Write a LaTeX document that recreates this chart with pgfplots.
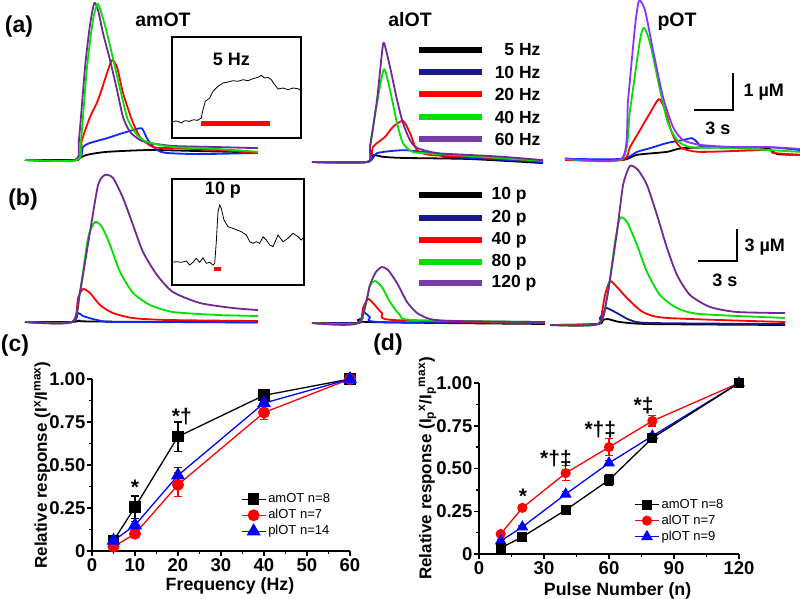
\documentclass[border=0pt]{standalone}
\usepackage{pgfplots}
\pgfplotsset{compat=1.18}
\usepackage{fontspec}
\setmainfont{Liberation Sans}
\newcommand\fs[1]{\fontsize{#1}{#1}\selectfont}
\definecolor{tgreen}{RGB}{0,225,0}
\definecolor{tpurple}{RGB}{112,40,150}
\definecolor{lpurple}{RGB}{120,60,170}
\definecolor{tviolet}{RGB}{140,50,255}
\definecolor{tnavy}{RGB}{25,25,140}
\definecolor{tblue}{RGB}{10,40,255}
\pgfplotsset{
 trace/.style={hide axis, clip=false, x=13pt, xmin=0, xmax=18, ymin=0, enlargelimits=false, anchor=south west,
   every axis plot/.append style={line width=1.8pt, smooth, tension=0.4, no marks, line join=round}},
 traceA/.style={trace, y=37pt, ymax=4.4},
 traceB/.style={trace, y=10.667pt, ymax=15},
 inset/.style={anchor=south west, scale only axis, xtick=\empty, ytick=\empty, clip=false,
   axis line style={line width=1.1pt}, enlargelimits=false},
 sumplot/.style={scale only axis, anchor=south west, clip=false, enlargelimits=false,
   axis x line=bottom, axis y line=left, axis line style={-, line width=1.5pt},
   tick align=outside, major tick length=5pt, minor tick length=3pt,
   every tick/.style={black, line width=1.5pt},
   tick label style={font=\bfseries\fs{18.5}},
   xticklabel style={inner sep=2pt},
   yticklabel style={inner sep=1.5pt},
   /pgf/number format/assume math mode=true,
   minor x tick num=1, minor y tick num=1,
   ytick={0,0.25,0.5,0.75,1}, yticklabels={0,0.25,0.50,0.75,1.00},
   ymin=0, ymax=1,
   xlabel style={font=\bfseries\fs{17.8}, anchor=center},
   ylabel style={font=\bfseries\fs{17}, anchor=center},
   legend cell align=left,
   legend image code/.code={\draw[mark repeat=2,mark phase=2,##1] plot coordinates {(0pt,0pt) (12pt,0pt) (24pt,0pt)};},
   legend style={anchor=north west, draw=none, fill=none, font=\fs{13}, row sep=0pt,
     nodes={inner sep=2pt, text height=9.5pt, text depth=2.5pt}},
   every axis plot/.append style={line width=1.3pt, mark options={solid}},
   error bars/y dir=both, error bars/y explicit,
   error bars/error bar style={line width=1.3pt},
   error bars/error mark options={rotate=90, mark size=4pt, line width=1.3pt}},
 amst/.style={black, mark=square*, mark size=5.2pt},
 alst/.style={red, mark=*, mark size=5.3pt},
 plst/.style={blue, mark=triangle*, mark size=6.8pt},
 amsd/.style={black, mark=square*, mark size=4.2pt},
 alsd/.style={red, mark=*, mark size=4.4pt},
 plsd/.style={blue, mark=triangle*, mark size=5.6pt},
}
\begin{document}
\begin{tikzpicture}
\useasboundingbox (0,0) rectangle (800pt,-599pt);
% ---------- labels
\node[font=\bfseries\fs{23}] at (19pt,-27pt) {(a)};
\node[font=\bfseries\fs{23}] at (23pt,-200pt) {(b)};
\node[font=\bfseries\fs{23}] at (15pt,-346pt) {(c)};
\node[font=\bfseries\fs{23}] at (388pt,-345pt) {(d)};
\node[font=\bfseries\fs{19.5}] at (163pt,-20pt) {amOT};
\node[font=\bfseries\fs{19.5}] at (410pt,-20pt) {alOT};
\node[font=\bfseries\fs{19.5}] at (677pt,-22pt) {pOT};
% ---------- legends (a) (b)
\foreach \yy/\cc/\tt in {50/black/5 Hz, 72/tnavy/10 Hz, 94/red/20 Hz, 117/tgreen/40 Hz, 139/lpurple/60 Hz}{
  \draw[line width=6pt, \cc] (419pt,-\yy pt) -- (482pt,-\yy pt);
  \node[anchor=east, font=\bfseries\fs{17.5}] at (544pt,-\yy pt) {\tt};
}
\foreach \yy/\cc/\tt in {195/black/10 p, 218/tnavy/20 p, 240/red/40 p, 262/tgreen/80 p, 283/lpurple/120 p}{
  \draw[line width=6pt, \cc] (419pt,-\yy pt) -- (482pt,-\yy pt);
  \node[anchor=west, font=\bfseries\fs{17.5}] at (488pt,-\yy pt) {\tt};
}
% ---------- (a) amOT
\begin{axis}[traceA, at={(25pt,-160pt)}]
\addplot[black] coordinates {(0,0) (3.9,0) (4.08,0.03) (4.77,0.14) (6.31,0.22) (9.62,0.27) (13.46,0.24) (16.0,0.22) (17.92,0.19)};
\addplot[tblue] coordinates {(0,0) (4.0,0) (4.46,0.35) (5.0,0.46) (6.31,0.59) (7.54,0.73) (8.85,0.86) (9.08,0.81) (9.46,0.54) (10.15,0.27) (10.92,0.19) (13.46,0.16) (17.92,0.19)};
\addplot[red] coordinates {(0,0) (4.0,0) (4.38,0.54) (5.0,1.16) (5.62,1.62) (6.31,2.35) (6.69,2.70) (7.08,2.51) (7.54,1.81) (8.23,1.08) (8.85,0.62) (9.85,0.35) (11.38,0.32) (14.77,0.27) (17.92,0.19)};
\addplot[tpurple] coordinates {(0,0) (3.85,0) (4.15,0.54) (4.62,2.51) (5.0,3.65) (5.33,4.24) (5.62,4.05) (6.0,3.43) (6.54,2.70) (7.08,1.89) (7.54,1.16) (8.08,0.76) (8.85,0.54) (9.62,0.46) (11.38,0.38) (14.77,0.35) (17.92,0.32)};
\addplot[tgreen] coordinates {(0,0) (4.0,0) (4.31,0.54) (4.77,2.51) (5.23,3.78) (5.59,4.22) (5.92,3.92) (6.31,3.43) (6.92,2.51) (7.46,1.70) (7.92,1.08) (8.62,0.68) (9.38,0.49) (11.38,0.35) (14.77,0.30) (17.92,0.22)};
\end{axis}
% ---------- (a) alOT
\begin{axis}[traceA, at={(312pt,-162pt)}]
\addplot[black] coordinates {(0,0) (4.23,0) (4.69,0.19) (5.46,0.14) (7.0,0.11) (12.15,0.08) (17.77,-0.03)};
\addplot[tblue] coordinates {(0,0) (4.23,0) (5.0,0.24) (7.0,0.32) (8.54,0.27) (9.85,0.22) (10.08,0.14) (12.15,0.11) (17.77,0)};
\addplot[red] coordinates {(0,0) (4.23,0) (4.69,0.41) (5.62,0.68) (6.23,0.95) (7.0,1.11) (7.54,0.78) (8.08,0.32) (9.08,0.19) (12.15,0.14) (17.77,0.03)};
\addplot[tgreen] coordinates {(0,0) (4.23,0) (4.46,0.41) (5.08,1.76) (5.54,2.51) (6.0,1.95) (6.54,1.05) (7.0,0.51) (7.77,0.27) (9.62,0.22) (17.77,0.03)};
\addplot[tpurple] coordinates {(0,0) (4.23,0) (4.46,0.41) (5.0,1.68) (5.38,2.95) (5.54,3.22) (6.0,2.57) (6.54,1.68) (7.0,1.05) (7.54,0.59) (8.08,0.38) (9.62,0.24) (12.15,0.19) (14.69,0.14) (17.77,0.05)};
\end{axis}
% ---------- (a) pOT
\begin{axis}[traceA, at={(565pt,-160pt)}, xmax=18.1]
\addplot[black] coordinates {(0,0) (4.38,0) (5.54,0.14) (7.85,0.22) (9.08,0.32) (12.92,0.35) (15.54,0.32) (16.31,0.16) (18.08,0.14)};
\addplot[tblue] coordinates {(0,0.03) (4.38,0.03) (5.54,0.22) (6.54,0.32) (7.85,0.46) (9.08,0.54) (9.77,0.59) (10.15,0.49) (10.62,0.35) (12.92,0.35) (15.54,0.35) (18.08,0.27)};
\addplot[red] coordinates {(0,0) (4.38,0) (5.0,0.35) (5.77,0.81) (6.54,1.27) (7.23,1.65) (7.69,1.35) (8.23,0.73) (8.85,0.35) (10.38,0.22) (15.54,0.27) (16.0,0.19) (18.08,0.14)};
\addplot[tgreen] coordinates {(0,0.03) (4.38,0.03) (5.0,1.35) (5.77,3.24) (6.08,3.57) (6.54,3.16) (7.31,1.89) (7.92,1.0) (8.62,0.54) (9.62,0.35) (12.92,0.32) (18.08,0.22)};
\addplot[tviolet] coordinates {(0,0.05) (4.38,0.05) (4.85,1.62) (5.38,3.59) (5.69,4.30) (6.15,4.05) (6.77,2.97) (7.54,1.70) (8.31,0.89) (9.08,0.54) (10.38,0.41) (12.92,0.35) (15.54,0.35) (18.08,0.30)};
\draw[line width=2pt] (axis cs:9.92,1.35) -- (axis cs:12.92,1.35) -- (axis cs:12.92,2.35);
\end{axis}
\node[anchor=west, font=\bfseries\fs{18}] at (740pt,-92pt) {1 µM};
\node[font=\bfseries\fs{18}] at (718pt,-128pt) {3 s};
% ---------- (b) amOT
\begin{axis}[traceB, at={(25pt,-322pt)}]
\addplot[black] coordinates {(0,0) (3.62,0) (4.2,0.15) (5.0,0.05) (17.92,-0.05)};
\addplot[tblue] coordinates {(0,0) (3.62,0) (4.08,0.84) (4.46,0.56) (5.54,0.19) (7.08,0) (17.92,0)};
\addplot[red] coordinates {(0,0) (3.62,0) (4.08,2.25) (4.46,3.09) (5.0,2.72) (5.77,1.59) (6.77,0.84) (8.31,0.37) (10.92,0.19) (17.92,0.09)};
\addplot[tgreen] coordinates {(0,0) (3.62,0) (4.23,2.81) (4.85,7.87) (5.38,9.37) (5.92,8.91) (6.54,7.22) (7.31,4.69) (8.31,2.72) (9.62,1.59) (11.38,0.94) (14.77,0.66) (17.92,0.56)};
\addplot[tpurple] coordinates {(0,0) (3.62,0) (4.23,2.81) (5.0,8.44) (5.62,12.84) (6.15,13.78) (6.77,13.5) (7.54,11.62) (8.31,9.09) (9.08,6.56) (10.15,4.41) (11.38,2.81) (13.46,1.78) (16.0,1.31) (17.92,1.12)};
\end{axis}
% ---------- (b) alOT
\begin{axis}[traceB, at={(312pt,-323pt)}]
\addplot[black] coordinates {(0,0) (3.54,0) (3.69,0.28) (3.92,0.47) (4.31,0.09) (17.92,-0.09)};
\addplot[tblue] coordinates {(0,0) (3.54,0) (3.85,0.75) (4.0,1.03) (4.46,0.56) (5.23,0.09) (17.92,0)};
\addplot[red] coordinates {(0,0) (3.54,0) (3.92,1.41) (4.31,2.25) (4.69,1.87) (5.38,0.94) (6.23,0.28) (17.92,0)};
\addplot[tgreen] coordinates {(0,0) (3.54,0) (4.23,2.34) (4.46,3.56) (4.85,3.94) (5.38,3.37) (6.0,1.97) (6.77,0.75) (7.77,0.28) (17.92,0.09)};
\addplot[tpurple] coordinates {(0,0) (3.54,0) (4.46,3.56) (4.92,4.78) (5.38,5.25) (5.85,4.97) (6.54,3.75) (7.31,1.97) (8.08,0.94) (9.08,0.37) (10.85,0.19) (17.92,0.09)};
\end{axis}
% ---------- (b) pOT
\begin{axis}[traceB, at={(550pt,-325pt)}, xmax=18.1]
\addplot[black] coordinates {(0,0) (3.69,0.09) (4.08,0.47) (4.46,0.56) (5.38,0.28) (7.69,0.09) (18.08,0)};
\addplot[tnavy] coordinates {(0,0) (3.69,0.09) (3.85,0.66) (4.23,1.41) (4.38,1.59) (5.15,1.12) (6.15,0.47) (7.69,0.19) (18.08,0.09)};
\addplot[red] coordinates {(0,0) (3.69,0.09) (4.0,1.22) (4.23,2.81) (4.62,4.12) (5.15,3.56) (5.92,2.53) (7.15,1.22) (9.0,0.66) (18.08,0.28)};
\addplot[tgreen] coordinates {(0,0) (3.69,0.09) (4.38,2.53) (5.0,7.78) (5.38,10.03) (5.92,9.66) (6.69,7.5) (7.46,4.97) (8.46,2.81) (9.77,1.59) (11.54,1.03) (18.08,0.66)};
\addplot[tpurple] coordinates {(0,0) (3.69,0.09) (4.38,2.53) (5.15,8.72) (5.62,13.12) (6.15,14.91) (6.77,14.53) (7.46,13.12) (8.23,10.31) (9.0,7.22) (9.77,4.69) (10.77,2.81) (12.31,1.69) (14.38,1.22) (18.08,1.12)};
\draw[line width=2pt] (axis cs:11.38,6.0) -- (axis cs:14.38,6.0) -- (axis cs:14.38,9.0);
\end{axis}
\node[anchor=west, font=\bfseries\fs{18}] at (741pt,-247pt) {3 µM};
\node[font=\bfseries\fs{18}] at (725pt,-280pt) {3 s};
% ---------- insets
\begin{axis}[inset, at={(172pt,-138pt)}, width=129pt, height=101pt, xmin=0, xmax=129, ymin=0, ymax=101]
\addplot[black, line width=0.8pt, no marks] coordinates {(1,16) (3.5,17) (6,16.7) (9.3,15) (12,17) (14.3,17.3) (17,16.5) (19.3,17.7) (22.7,18.3) (25,17.5) (27.7,19) (29.3,20) (31,28.3) (33.3,36.7) (37.7,40) (41,46.7) (46,51.7) (51,55) (56,56) (61,57.3) (66,56.7) (71,58.3) (76,57.3) (81,59.3) (86,60.7) (89.3,62.7) (92.7,60) (96,60.7) (99.3,58.3) (102.7,53.3) (106,49) (111,50) (116,48.3) (121,50) (126,49.3) (128.7,47.7)};
\addplot[red, line width=4.7pt, no marks] coordinates {(29.3,14.7) (97.7,14.7)};
\node[font=\bfseries\fs{18}] at (axis cs:59.3,78.3) {5 Hz};
\end{axis}
\begin{axis}[inset, at={(172pt,-285pt)}, width=132pt, height=106pt, xmin=0, xmax=132, ymin=0, ymax=106]
\addplot[black, line width=0.8pt, no marks] coordinates {(0,22.7) (4.3,23.3) (9.3,22.7) (14.3,24) (17.7,20) (21,22.7) (24.3,26.7) (27.7,22.7) (31,27.3) (34.3,21.7) (37.7,22.7) (41,20) (42.7,21.7) (44.3,43.3) (46,73.3) (47.7,80) (49.3,76.7) (52,65) (56,58.3) (62.7,56) (69.3,53.3) (74.3,50) (77.7,43.3) (81,41.7) (84.3,43.3) (87.7,41.7) (91,48.3) (94.3,45) (97.7,40) (101,38.3) (106,50) (111,43.3) (116,46.7) (121,51.7) (126,48.3) (129.3,45) (132,48.3)};
\addplot[red, line width=4.3pt, no marks] coordinates {(42,16.2) (49.3,16.2)};
\node[font=\bfseries\fs{18}] at (axis cs:51,95) {10 p};
\end{axis}
% ---------- (c)
\begin{axis}[sumplot, at={(92pt,-551pt)}, width=258pt, height=172pt,
  xmin=0, xmax=60, xtick={0,10,...,60},
  xlabel={Frequency (Hz)}, ylabel={Relative response (I\textsuperscript{x}/I\textsuperscript{max})},
  xlabel style={at={(axis description cs:0.535,-0.2)}},
  ylabel style={at={(axis description cs:-0.193,0.5)}},
  legend style={at={(0.565,0.36)}}]
\addlegendimage{amst, line width=1.3pt}
\addlegendimage{alst, line width=1.3pt}
\addlegendimage{plst, line width=1.3pt}
\addplot[amst, forget plot] coordinates {(5,0.06) +- (0,0.015) (10,0.255) +- (0,0.065) (20,0.665) +- (0,0.085) (40,0.905) +- (0,0.035) (60,1.0) +- (0,0)};
\addplot[alst, forget plot] coordinates {(5,0.025) +- (0,0.01) (10,0.10) +- (0,0.012) (20,0.385) +- (0,0.07) (40,0.805) +- (0,0.04) (60,1.0) +- (0,0)};
\addplot[plst, forget plot] coordinates {(5,0.06) +- (0,0.01) (10,0.15) +- (0,0.02) (20,0.44) +- (0,0.045) (40,0.86) +- (0,0.02) (60,1.0) +- (0,0)};
\legend{amOT n=8, alOT n=7, plOT n=14}
\node[font=\bfseries\fs{21}] at (axis cs:10,0.37) {*};
\node[font=\bfseries\fs{21}] at (axis cs:20.9,0.78) {*†};
\end{axis}
% ---------- (d)
\begin{axis}[sumplot, at={(479pt,-554pt)}, width=260pt, height=171pt,
  xmin=0, xmax=120, xtick={0,30,...,120},
  xlabel={Pulse Number (n)}, ylabel={Relative response (I\textsubscript{p}\textsuperscript{x}/I\textsubscript{p}\textsuperscript{max})},
  xlabel style={at={(axis description cs:0.533,-0.213)}},
  ylabel style={at={(axis description cs:-0.198,0.5)}},
  legend style={at={(0.585,0.348)}}]
\addlegendimage{amsd, line width=1.3pt}
\addlegendimage{alsd, line width=1.3pt}
\addlegendimage{plsd, line width=1.3pt}
\addplot[alsd, forget plot] coordinates {(10,0.117) +- (0,0.01) (20,0.27) +- (0,0.015) (40,0.473) +- (0,0.045) (60,0.625) +- (0,0.05) (80,0.778) +- (0,0.03) (120,1.0) +- (0,0)};
\addplot[plsd, forget plot] coordinates {(10,0.076) +- (0,0.01) (20,0.158) +- (0,0.01) (40,0.35) +- (0,0.015) (60,0.532) +- (0,0.015) (80,0.69) +- (0,0.015) (120,1.0) +- (0,0)};
\addplot[amsd, forget plot] coordinates {(10,0.035) +- (0,0.01) (20,0.10) +- (0,0.01) (40,0.257) +- (0,0.02) (60,0.433) +- (0,0.03) (80,0.678) +- (0,0.015) (120,1.0) +- (0,0)};
\legend{amOT n=8, alOT n=7, plOT n=9}
\node[font=\bfseries\fs{21}] at (axis cs:20.3,0.34) {*};
\node[font=\bfseries\fs{21}] at (axis cs:35.5,0.56) {*†‡};
\node[font=\bfseries\fs{21}] at (axis cs:56,0.725) {*†‡};
\node[font=\bfseries\fs{21}] at (axis cs:76,0.865) {*‡};
\end{axis}
\end{tikzpicture}
\end{document}
